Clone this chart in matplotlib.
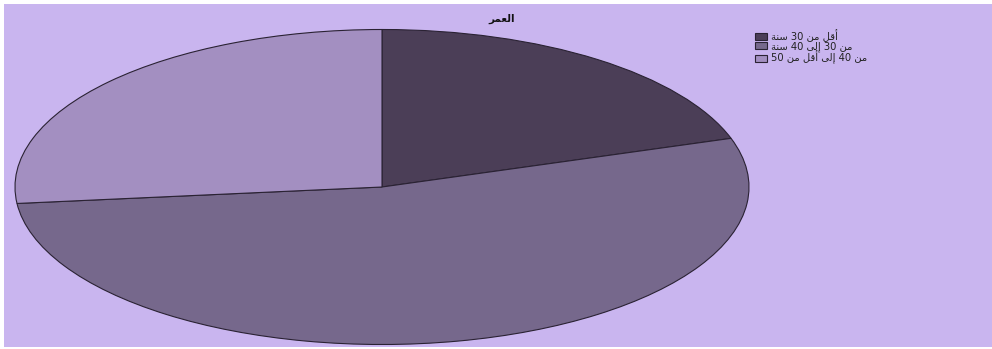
import matplotlib
matplotlib.use("Agg")
import matplotlib.pyplot as plt
from matplotlib.patches import Rectangle

# Age groups and their counts
categories = ["أقل من 30 سنة", "من 30 إلى 40 سنة", "من 40 إلى أقل من 50"]
counts = [12, 32, 16]
title = "العمر"

colors = ["#4b3e57", "#76688c", "#a38fc1"]
bg = "#c9b5ef"

# Presentation forms: (isolated, final, initial, medial); None = does not join forward
FORMS = {
    "ا": ("\uFE8D", "\uFE8E", None, None),
    "أ": ("\uFE83", "\uFE84", None, None),
    "إ": ("\uFE87", "\uFE88", None, None),
    "ر": ("\uFEAD", "\uFEAE", None, None),
    "ة": ("\uFE93", "\uFE94", None, None),
    "ى": ("\uFEEF", "\uFEF0", None, None),
    "ل": ("\uFEDD", "\uFEDE", "\uFEDF", "\uFEE0"),
    "ع": ("\uFEC9", "\uFECA", "\uFECB", "\uFECC"),
    "م": ("\uFEE1", "\uFEE2", "\uFEE3", "\uFEE4"),
    "ق": ("\uFED5", "\uFED6", "\uFED7", "\uFED8"),
    "ن": ("\uFEE5", "\uFEE6", "\uFEE7", "\uFEE8"),
    "س": ("\uFEB1", "\uFEB2", "\uFEB3", "\uFEB4"),
}
LAM_ALEF = {"ا": ("\uFEFB", "\uFEFC"), "أ": ("\uFEF7", "\uFEF8"), "إ": ("\uFEF9", "\uFEFA")}


def joins_forward(ch):
    return ch in FORMS and FORMS[ch][2] is not None


def shape_word(word):
    out = []
    i = 0
    n = len(word)
    while i < n:
        ch = word[i]
        if ch not in FORMS:
            out.append(ch)
            i += 1
            continue
        prev_joins = i > 0 and joins_forward(word[i - 1])
        if ch == "ل" and i + 1 < n and word[i + 1] in LAM_ALEF:
            iso, fin = LAM_ALEF[word[i + 1]]
            out.append(fin if prev_joins else iso)
            i += 2
            continue
        nxt = word[i + 1] if i + 1 < n else None
        next_joins = joins_forward(ch) and nxt in FORMS
        iso, fin, ini, med = FORMS[ch]
        if prev_joins and next_joins:
            out.append(med)
        elif prev_joins:
            out.append(fin)
        elif next_joins:
            out.append(ini)
        else:
            out.append(iso)
        i += 1
    return "".join(out)


def visual(text):
    # shape each word, then lay the line out right-to-left (numbers keep their digit order)
    words = []
    for w in text.split(" "):
        if w.isdigit():
            words.append(w)
        else:
            words.append(shape_word(w)[::-1])
    return " ".join(reversed(words))


plt.rcParams["font.family"] = ["DejaVu Sans"]

W, H, DPI = 992, 349, 100
fig = plt.figure(figsize=(W / DPI, H / DPI), dpi=DPI, facecolor="white")
fig.patches.append(Rectangle((4 / W, 2 / H), 1, (H - 6) / H, transform=fig.transFigure,
                             facecolor=bg, edgecolor="none", zorder=-5))

# pie occupies an ellipse: x 15..749, y 29..344 (pixels from top)
cx, cy, rx, ry = 382, 187, 367, 157.5
ax = fig.add_axes([(cx - rx) / W, (H - cy - ry) / H, 2 * rx / W, 2 * ry / H])
ax.set_facecolor("none")
ax.set_zorder(2)
wedges, _ = ax.pie(counts, colors=colors, startangle=90, counterclock=False,
                   wedgeprops=dict(edgecolor="#2a2233", linewidth=0.8))
ax.set_xlim(-1, 1)
ax.set_ylim(-1, 1)
ax.set_aspect("auto")
ax.axis("off")

fig.text(502 / W, 1 - 19 / H, visual(title), ha="center", va="center",
         fontsize=7.5, fontweight="bold", color="#111111")

leg = fig.legend(wedges, [visual(c) for c in categories], loc="upper left",
                 bbox_to_anchor=(749 / W, 1 - 23 / H), frameon=False,
                 fontsize=7.2, handlelength=1.2, handleheight=0.75,
                 handletextpad=0.4, labelspacing=-0.08, borderpad=0.1)
for t in leg.get_texts():
    t.set_color("#222222")

fig.savefig("out.png", dpi=DPI, facecolor="white")
